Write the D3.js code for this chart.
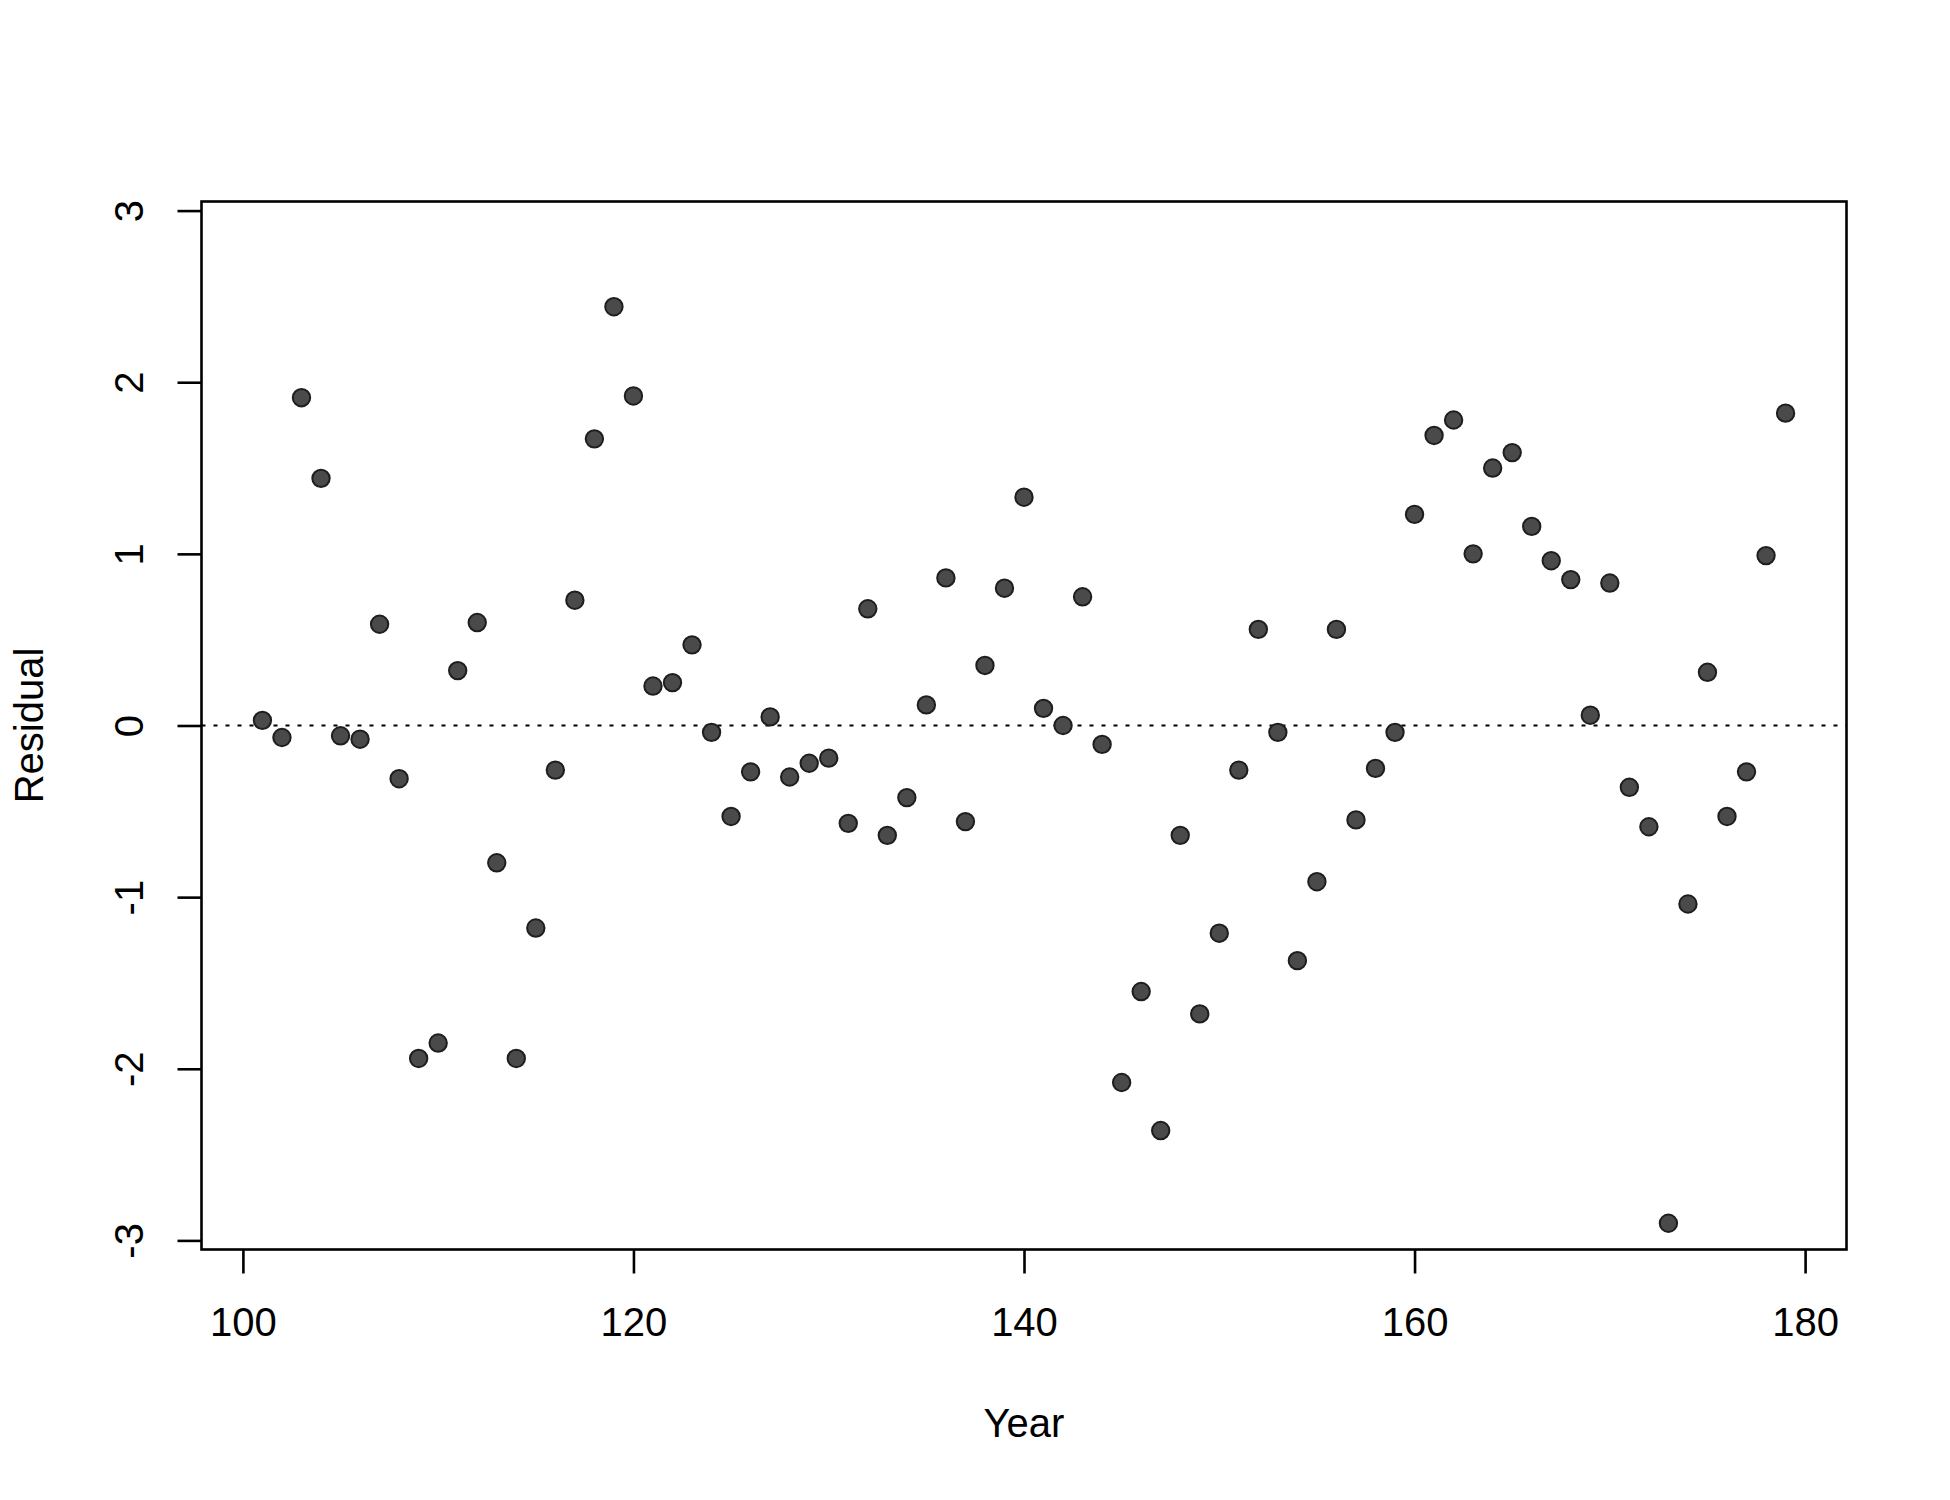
<!DOCTYPE html>
<html>
<head>
<meta charset="utf-8">
<script src="https://cdn.jsdelivr.net/npm/d3@7"></script>
<style>
  html, body { margin: 0; padding: 0; background: #ffffff; }
  svg { display: block; }
  text { font-family: "Liberation Sans", Arial, sans-serif; fill: #000; }
</style>
</head>
<body>
<script>
// ---- data ----
const years = d3.range(101, 180); // 101..179
const residuals = [
  0.03, -0.07, 1.91, 1.44, -0.06, -0.08, 0.59, -0.31, -1.94, -1.85,
  0.32, 0.60, -0.80, -1.94, -1.18, -0.26, 0.73, 1.67, 2.44, 1.92,
  0.23, 0.25, 0.47, -0.04, -0.53, -0.27, 0.05, -0.30, -0.22, -0.19,
  -0.57, 0.68, -0.64, -0.42, 0.12, 0.86, -0.56, 0.35, 0.80, 1.33,
  0.10, 0.00, 0.75, -0.11, -2.08, -1.55, -2.36, -0.64, -1.68, -1.21,
  -0.26, 0.56, -0.04, -1.37, -0.91, 0.56, -0.55, -0.25, -0.04, 1.23,
  1.69, 1.78, 1.00, 1.50, 1.59, 1.16, 0.96, 0.85, 0.06, 0.83,
  -0.36, -0.59, -2.90, -1.04, 0.31, -0.53, -0.27, 0.99, 1.82
];
const xTicks = [100, 120, 140, 160, 180];
const yTicks = [-3, -2, -1, 0, 1, 2, 3];
const xLabel = "Year";
const yLabel = "Residual";

// ---- layout ----
const W = 1950, H = 1500;
const plot = { left: 201.5, right: 1846.5, top: 201.5, bottom: 1249.5 };
const fontSize = 40;

const svg = d3.select("body").append("svg")
  .attr("width", W).attr("height", H);

svg.append("rect").attr("x", 0).attr("y", 0).attr("width", W).attr("height", H).attr("fill", "#fff");

const x = d3.scaleLinear().domain([97.88, 182.12]).range([plot.left, plot.right]);
const y = d3.scaleLinear().domain([-3.053, 3.053]).range([plot.bottom, plot.top]);

// reference line at 0
svg.append("line")
  .attr("x1", plot.left).attr("x2", plot.right)
  .attr("y1", y(0)).attr("y2", y(0))
  .attr("stroke", "#000").attr("stroke-width", 2)
  .attr("stroke-dasharray", "4,8");

// points
svg.append("g").selectAll("circle")
  .data(years.map((yr, i) => ({ yr, v: residuals[i] })))
  .join("circle")
  .attr("cx", d => x(d.yr))
  .attr("cy", d => y(d.v))
  .attr("r", 8.7)
  .attr("fill", "#4a4a4a")
  .attr("stroke", "#1e1e1e")
  .attr("stroke-width", 2);

// box
svg.append("rect")
  .attr("x", plot.left).attr("y", plot.top)
  .attr("width", plot.right - plot.left).attr("height", plot.bottom - plot.top)
  .attr("fill", "none").attr("stroke", "#000").attr("stroke-width", 2.6);

// x axis
const gx = svg.append("g")
  .attr("transform", `translate(0,${plot.bottom})`)
  .call(d3.axisBottom(x).tickValues(xTicks).tickFormat(d3.format("d")).tickSize(24).tickPadding(34.5));
gx.select(".domain").remove();
gx.selectAll(".tick line").attr("stroke", "#000").attr("stroke-width", 2.6);
gx.selectAll(".tick text")
  .attr("font-size", fontSize)
  .attr("font-family", '"Liberation Sans", Arial, sans-serif')
  .attr("fill", "#000");

// y axis
const gy = svg.append("g")
  .attr("transform", `translate(${plot.left},0)`)
  .call(d3.axisLeft(y).tickValues(yTicks).tickFormat(d3.format("d")).tickSize(24));
gy.select(".domain").remove();
gy.selectAll(".tick line").attr("stroke", "#000").attr("stroke-width", 2.6);
gy.selectAll(".tick text")
  .attr("x", null).attr("dy", null)
  .attr("text-anchor", "middle")
  .attr("transform", "translate(-58.5,0) rotate(-90)")
  .attr("font-size", fontSize)
  .attr("font-family", '"Liberation Sans", Arial, sans-serif')
  .attr("fill", "#000")
  .text(d => d < 0 ? "-" + Math.abs(d) : String(d));

// axis titles
svg.append("text")
  .attr("x", (plot.left + plot.right) / 2)
  .attr("y", 1437)
  .attr("text-anchor", "middle")
  .attr("font-size", fontSize)
  .text(xLabel);

svg.append("text")
  .attr("transform", `translate(43,${(plot.top + plot.bottom) / 2}) rotate(-90)`)
  .attr("text-anchor", "middle")
  .attr("font-size", fontSize)
  .text(yLabel);
</script>
</body>
</html>
